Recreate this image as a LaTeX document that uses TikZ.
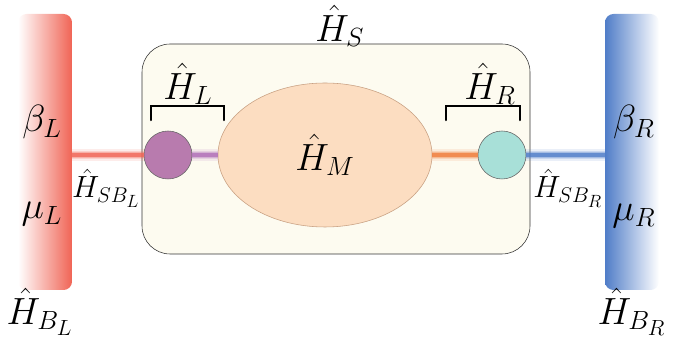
\documentclass[tikz,border=0pt]{standalone}
\usepackage{amsmath, amssymb}
\usepackage{tikz}
\usetikzlibrary{shapes, positioning, calc, backgrounds}
\definecolor{bathRed}{RGB}{240, 100, 85}
\definecolor{bathBlue}{RGB}{80, 125, 200}
\definecolor{sysCream}{RGB}{253, 251, 240}
\definecolor{leadPurple}{RGB}{184, 123, 174}
\definecolor{leadTeal}{RGB}{168, 224, 216}
\definecolor{molPeach}{RGB}{252, 221, 193}
\definecolor{molEdge}{RGB}{200, 160, 130}
\definecolor{linkPurple}{RGB}{176, 110, 184}
\definecolor{linkOrange}{RGB}{240, 125, 60}

\tikzset{
    bath/.style={rounded corners=6pt, minimum width=1.35cm, minimum height=6.9cm, inner sep=0pt},
    site/.style={circle, draw=black!60, thin, minimum size=1.2cm, inner sep=0pt},
    lbl/.style={font=\huge, scale=1.3, inner sep=0pt},
    sblbl/.style={font=\huge, scale=1.05, inner sep=0pt},
    glow/.style={draw=#1, line width=2.4pt, draw opacity=0.75,
        preaction={draw=#1, line width=8pt, draw opacity=0.12},
        preaction={draw=#1, line width=5.5pt, draw opacity=0.2},
        preaction={draw=#1, line width=3.8pt, draw opacity=0.3}},
    bracket/.style={line width=1.8pt, line cap=round}
}

\begin{document}
\begin{tikzpicture}
    \useasboundingbox (0, 0) rectangle (17, 8.5);

    % System box
    \node[draw=black!80, fill=sysCream, rounded corners=20pt, minimum width=9.7cm, minimum height=5.25cm] (sys) at (8.4, 4.775) {};
    \node[lbl] (hS) at (8.5, 7.85) {$\hat{H}_S$};

    % Baths
    \node[bath, left color=white, right color=bathRed] (bathL) at (1.125, 4.7) {};
    \node[bath, left color=bathBlue, right color=white] (bathR) at (15.8, 4.7) {};
    \node[lbl] (betaL) at (1.05, 5.45) {$\beta_L$};
    \node[lbl] (muL) at (1.05, 3.15) {$\mu_L$};
    \node[lbl] (betaR) at (15.85, 5.45) {$\beta_R$};
    \node[lbl] (muR) at (15.85, 3.1) {$\mu_R$};
    \node[lbl] (hBL) at (1.0, 0.7) {$\hat{H}_{B_L}$};
    \node[lbl] (hBR) at (15.8, 0.7) {$\hat{H}_{B_R}$};

    % Leads and molecule
    \node[site, fill=leadPurple] (siteL) at (4.2, 4.625) {};
    \node[site, fill=leadTeal] (siteR) at (12.55, 4.625) {};
    \node[ellipse, draw=molEdge, thin, fill=molPeach, minimum width=5.35cm, minimum height=3.6cm, inner sep=0pt] (mol) at (8.125, 4.625) {};
    \node[lbl] (hM) at (mol.center) {$\hat{H}_M$};

    % Couplings
    \draw[glow=bathRed] (bathL.east |- siteL.west) -- (siteL.west);
    \draw[glow=linkPurple] (siteL.east) -- (mol.west);
    \draw[glow=linkOrange] (mol.east) -- (siteR.west);
    \draw[glow=bathBlue] (siteR.east) -- (bathR.west |- siteR.east);
    \node[sblbl] (hSBL) at (2.65, 3.8) {$\hat{H}_{SB_L}$};
    \node[sblbl] (hSBR) at (14.2, 3.8) {$\hat{H}_{SB_R}$};

    % Brackets
    \coordinate (bLa) at (3.78, 5.5);
    \coordinate (bLb) at (5.6, 5.5);
    \coordinate (bRa) at (11.15, 5.5);
    \coordinate (bRb) at (13.0, 5.5);
    \draw[bracket] (bLa) -- ++(0, 0.35) -| (bLb);
    \draw[bracket] (bRa) -- ++(0, 0.35) -| (bRb);
    \node[lbl] (hL) at (4.7, 6.4) {$\hat{H}_L$};
    \node[lbl] (hR) at (12.25, 6.4) {$\hat{H}_R$};
\end{tikzpicture}
\end{document}
